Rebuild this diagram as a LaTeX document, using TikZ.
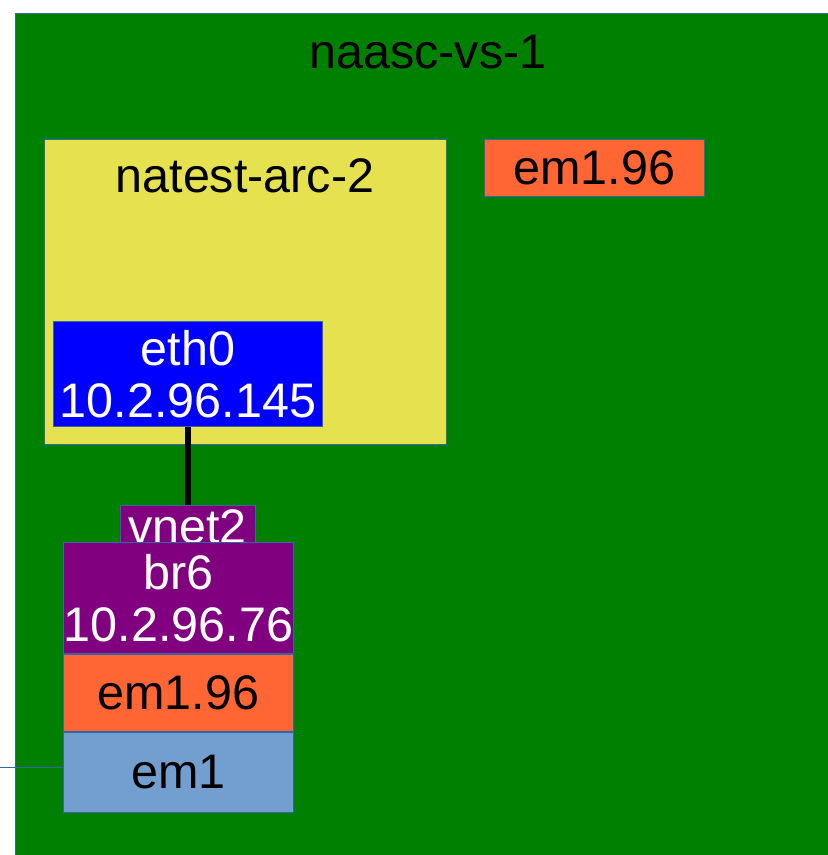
\documentclass[tikz,border=0pt]{standalone}
\usepackage{fontspec}
\setmainfont{Liberation Sans}
\usetikzlibrary{positioning}

\definecolor{hostgreen}{HTML}{008000}
\definecolor{vmyellow}{HTML}{E6E24F}
\definecolor{ifblue}{HTML}{0000FF}
\definecolor{vlanorange}{HTML}{FF6633}
\definecolor{brpurple}{HTML}{800080}
\definecolor{nicblue}{HTML}{729FCF}
\definecolor{edgeblue}{HTML}{3465A4}

\begin{document}
\begin{tikzpicture}[x=1pt,y=-1pt,font=\fontsize{48.5}{52}\selectfont,inner sep=0pt]
        \tikzstyle{box}=[rectangle, draw=edgeblue, line width=0.8pt, anchor=north west, align=center]
        \tikzstyle{hostbox}=[box, fill=hostgreen]
        \tikzstyle{vmbox}=[box, fill=vmyellow]
        \tikzstyle{ifbox}=[box, fill=ifblue, text=white]
        \tikzstyle{brbox}=[box, fill=brpurple, text=white]
        \tikzstyle{vlanbox}=[box, fill=vlanorange, text=black]
        \tikzstyle{nicbox}=[box, fill=nicblue, text=black]
        \tikzstyle{link}=[draw=black, line width=6.5pt]
        \tikzstyle{wire}=[draw=edgeblue, line width=0.8pt]

        \useasboundingbox (0,0) rectangle (828,855);
        \clip (0,0) rectangle (828,855);

        \node[hostbox, minimum width=840, minimum height=870] (host) at (15,13) {};
        \node (hostname) at (428,52) {naasc-vs-1};

        \node[vmbox, minimum width=402, minimum height=305] (vm) at (44,139) {};
        \node (vmname) at (245,176) {natest-arc-2};
        \node[ifbox, minimum width=269, minimum height=105] (eth0) at (53,321) {eth0\\10.2.96.145};

        \node[vlanbox, minimum width=220, minimum height=57] (vlan2) at (484,139) {em1.96};

        \node[brbox, minimum width=135, minimum height=37] (vnet2) at (120,505) {};
        \node[anchor=base, text=white] (vnet2name) at (187.5,543) {vnet2};
        \path[link] (eth0.south) -- (vnet2.north);

        \node[brbox, minimum width=230, minimum height=111] (br6) at (63,542) {br6\\10.2.96.76};
        \node[vlanbox, minimum width=230, minimum height=77, below=0pt of br6] (vlan1) {em1.96};
        \node[nicbox, minimum width=230, minimum height=80, below=0pt of vlan1] (em1) {em1};

        \coordinate (uplink) at (0,767);
        \path[wire] (uplink) -- (uplink -| em1.west);
\end{tikzpicture}
\end{document}
